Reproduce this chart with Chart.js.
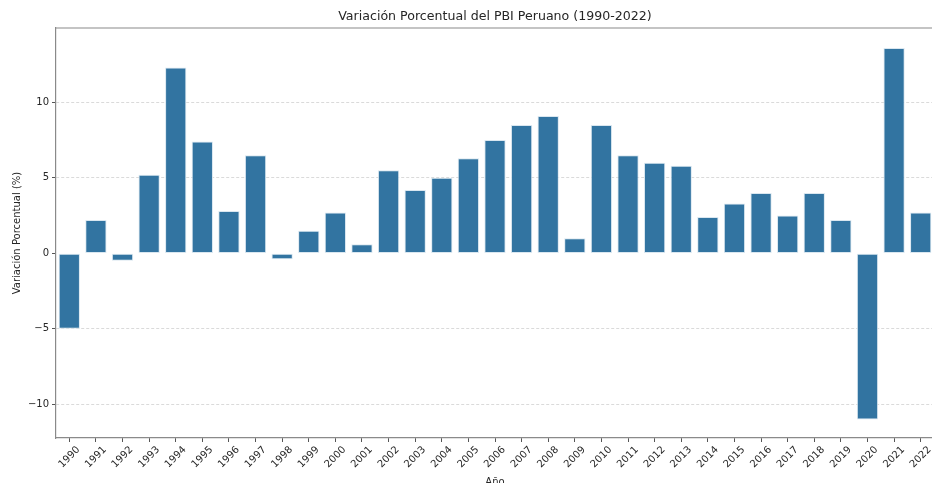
<!DOCTYPE html>
<html>
<head>
<meta charset="utf-8">
<script src="https://cdn.jsdelivr.net/npm/chart.js@4"></script>
<style>
  html, body { margin: 0; padding: 0; background: #fff; overflow: hidden; }
  #chart { display: block; }
</style>
</head>
<body>
<canvas id="chart" width="934" height="490"></canvas>
<script>
// Años y variación porcentual del PBI
const years = ['1990', '1991', '1992', '1993', '1994', '1995', '1996', '1997', '1998', '1999',
    '2000', '2001', '2002', '2003', '2004', '2005', '2006', '2007', '2008', '2009',
    '2010', '2011', '2012', '2013', '2014', '2015', '2016', '2017', '2018', '2019',
    '2020', '2021', '2022'];
const growth = [-5.0, 2.2, -0.5, 5.2, 12.3, 7.4, 2.8, 6.5, -0.4, 1.5,
    2.7, 0.6, 5.5, 4.2, 5.0, 6.3, 7.5, 8.5, 9.1, 1.0,
    8.5, 6.5, 6.0, 5.8, 2.4, 3.3, 4.0, 2.5, 4.0, 2.2,
    -11.0, 13.6, 2.7];
const yMin = -12.23;
const yMax = 14.92;
const yStep = 5;

const FONT = 'DejaVu Sans, sans-serif';
const TEXT = '#262626';
const SPINE = '#8a8a8a';

// matplotlib-style top spine
const topSpine = {
    id: 'topSpine',
    afterDraw(chart) {
        const { ctx, chartArea } = chart;
        ctx.save();
        ctx.strokeStyle = SPINE;
        ctx.lineWidth = 1.2;
        ctx.beginPath();
        ctx.moveTo(chartArea.left, chartArea.top);
        ctx.lineTo(chartArea.right, chartArea.top);
        ctx.stroke();
        ctx.restore();
    }
};

new Chart(document.getElementById('chart'), {
    type: 'bar',
    data: {
        labels: years,
        datasets: [{
            label: 'Variación Porcentual',
            data: growth,
            backgroundColor: '#3274a1',
            borderColor: 'rgba(214, 228, 238, 0.9)',
            borderWidth: 1,
            borderSkipped: false,
            barPercentage: 0.8,
            categoryPercentage: 1.0
        }]
    },
    options: {
        responsive: false,
        animation: false,
        layout: { padding: 0 },
        plugins: {
            legend: { display: false },
            tooltip: { enabled: false },
            title: {
                display: true,
                fullSize: false,
                text: 'Variación Porcentual del PBI Peruano (1990-2022)',
                color: TEXT,
                font: { family: FONT, size: 12.6, weight: 'normal' },
                padding: { top: 9.5, bottom: 3.4 }
            }
        },
        scales: {
            x: {
                offset: true,
                grid: {
                    offset: false,
                    drawOnChartArea: false,
                    drawTicks: true,
                    tickLength: 4,
                    tickColor: '#555',
                    tickWidth: 1
                },
                border: { color: SPINE, width: 1.2 },
                ticks: {
                    autoSkip: false,
                    minRotation: 45,
                    maxRotation: 45,
                    labelOffset: 9,
                    padding: 2,
                    color: TEXT,
                    font: { family: FONT, size: 10 }
                },
                title: {
                    display: true,
                    text: 'Año',
                    color: TEXT,
                    font: { family: FONT, size: 10 },
                    padding: { top: 0, bottom: 2 }
                },
                afterFit(scale) {
                    scale.height = 52;
                    scale.paddingLeft = 0;
                    scale.paddingRight = 0;
                }
            },
            y: {
                min: yMin,
                max: yMax,
                grid: {
                    // no dashed line at zero, like the original
                    color: (ctx) => (ctx.tick && ctx.tick.value === 0 ? 'rgba(0,0,0,0)' : '#d0d0d0'),
                    lineWidth: 0.8,
                    tickLength: 4,
                    tickColor: '#555',
                    tickWidth: 1,
                    tickBorderDash: []
                },
                border: { color: SPINE, width: 1.2, dash: [3, 2] },
                ticks: {
                    stepSize: yStep,
                    includeBounds: false,
                    padding: 3,
                    color: TEXT,
                    font: { family: FONT, size: 10 },
                    callback: (v) => (v < 0 ? '\u2212' + Math.abs(v) : String(v))
                },
                title: {
                    display: true,
                    text: 'Variación Porcentual (%)',
                    color: TEXT,
                    font: { family: FONT, size: 10 },
                    padding: { top: 11, bottom: 0 }
                },
                afterFit(scale) {
                    scale.width = 56;
                    scale.paddingTop = 0;
                    scale.paddingBottom = 0;
                }
            }
        }
    },
    plugins: [topSpine]
});
</script>
</body>
</html>
